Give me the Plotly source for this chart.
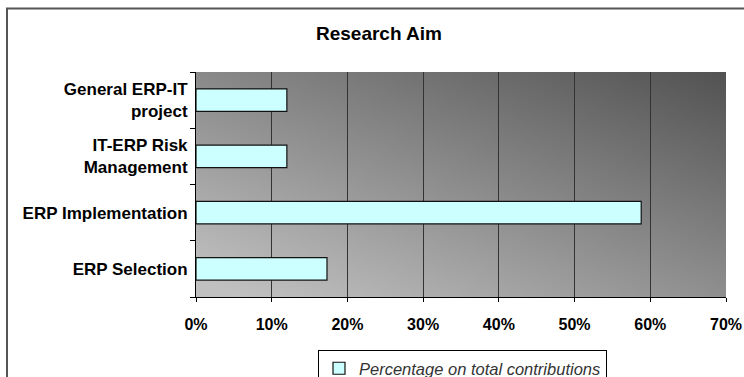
import base64
import plotly.graph_objects as go

# Data (bottom-to-top order, as plotted)
categories = ["ERP Selection", "ERP Implementation", "IT-ERP Risk<br>Management", "General ERP-IT<br>project"]
values = [17.3, 58.8, 12.0, 12.0]
series_name = "Percentage on total contributions"
x_ticks = [0, 10, 20, 30, 40, 50, 60, 70]

W, H = 744, 377
ML, MR, MT, MB = 196, 18, 72, 80
pw, ph = W - ML - MR, H - MT - MB

svg = (
    '<svg xmlns="http://www.w3.org/2000/svg" width="100" height="100" preserveAspectRatio="none" viewBox="0 0 100 100">'
    '<defs><linearGradient id="g" x1="0.1" y1="1" x2="1" y2="0">'
    '<stop offset="0" stop-color="#c0c0c0"/><stop offset="1" stop-color="#525252"/>'
    '</linearGradient></defs><rect width="100" height="100" fill="url(#g)"/></svg>'
)
src = "data:image/svg+xml;base64," + base64.b64encode(svg.encode()).decode()

fig = go.Figure()
fig.add_trace(go.Bar(
    y=categories, x=values, orientation="h", name=series_name,
    marker=dict(color="#ccffff", line=dict(color="#111111", width=1.2)),
    width=0.4, showlegend=True,
))

fig.update_layout(
    width=W, height=H,
    margin=dict(l=ML, r=MR, t=MT, b=MB, pad=0, autoexpand=False),
    paper_bgcolor="white", plot_bgcolor="rgba(0,0,0,0)",
    title=dict(text="Research Aim", x=(379 - ML) / pw, xref="paper", xanchor="center",
               y=1 - 33 / H, yanchor="middle",
               font=dict(family="Liberation Sans, Arial", size=19, color="black", weight="bold")),
    font=dict(family="Liberation Sans, Arial", color="black"),
    images=[dict(source=src, xref="paper", yref="paper", x=0, y=1, sizex=1, sizey=1,
                 xanchor="left", yanchor="top", sizing="stretch", layer="below")],
    xaxis=dict(range=[0, 70], tickvals=x_ticks, ticktext=[f"{v}%" for v in x_ticks],
               showgrid=True, gridcolor="#333333", gridwidth=1,
               showline=True, linecolor="black", linewidth=1,
               ticks="outside", ticklen=4, tickcolor="black",
               ticklabelstandoff=9, automargin=False,
               tickfont=dict(size=16, weight="bold", color="black"),
               zeroline=False, fixedrange=True),
    yaxis=dict(showgrid=False, showline=True, linecolor="black", linewidth=1,
               ticks="outside", ticklen=5, tickcolor="black", tickson="boundaries",
               tickfont=dict(size=17, weight="bold", color="black"),
               ticklabelstandoff=4, automargin=False, fixedrange=True),
    legend=dict(x=(318 - ML) / pw, y=(H - MB - 350) / ph, xanchor="left", yanchor="top",
                bgcolor="white", bordercolor="black", borderwidth=1,
                font=dict(size=16.5, style="italic", color="#333333"),
                itemwidth=30),
    shapes=[dict(type="rect", xref="paper", yref="paper",
                 x0=(7 - ML) / pw, x1=(W + 20 - ML) / pw,
                 y0=-(H + 20 - (H - MB)) / ph, y1=(H - MB - 8.5) / ph,
                 line=dict(color="#555555", width=2), fillcolor="rgba(0,0,0,0)", layer="below")],
    bargap=0.6,
)

fig.write_html("out.html")
